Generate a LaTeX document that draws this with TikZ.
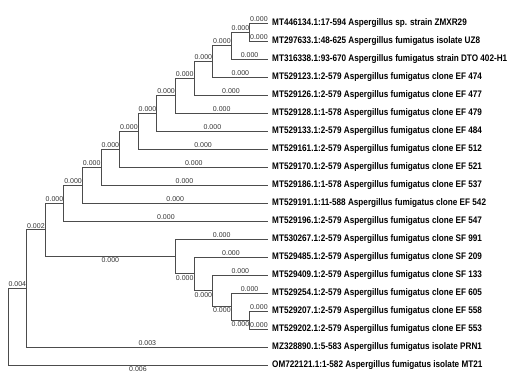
\documentclass[tikz,border=0pt]{standalone}
\usepackage{fontspec}
\usepackage{tikz}
\newfontfamily\leaffont[FakeStretch=0.86,BoldFont={Liberation Sans Bold}]{Liberation Sans}
\newfontfamily\lenfont{Liberation Sans}
\tikzset{branch/.style={draw=black!70,line width=0.8pt},
         leaf/.style={anchor=west,inner sep=0pt,font=\leaffont\bfseries\fontsize{9.5}{10}\selectfont},
         blen/.style={inner sep=1.2pt,text=black!80,font=\lenfont\fontsize{7}{8}\selectfont}}

\begin{document}
\begin{tikzpicture}[x=1pt,y=-1pt]
\useasboundingbox (0,0) rectangle (521,381);

%%inner nodes of the tree
\coordinate (u1) at (249.8,32);
\coordinate (u2) at (231.2,45.5);
\coordinate (u3) at (212.6,61.25);
\coordinate (u4) at (194,78.13);
\coordinate (u5) at (175.4,95.56);
\coordinate (u6) at (156.8,113.28);
\coordinate (u7) at (138.2,131.14);
\coordinate (u8) at (119.6,149.07);
\coordinate (u9) at (101,167.04);
\coordinate (u10) at (82.4,185.02);
\coordinate (u11) at (63.8,203.01);
\coordinate (s1) at (175.4,256.44);
\coordinate (s2) at (194,273.88);
\coordinate (s3) at (212.6,290.75);
\coordinate (s4) at (231.2,306.5);
\coordinate (s5) at (249.8,320);
\coordinate (b) at (45.2,229.72);
\coordinate (c) at (26.6,288.36);
\coordinate (r) at (8,326.68);

%%leaves: tip, name, parent, length, side of the length
\foreach \i/\p/\l/\s/\t in {
 0/u1/0.000/above/{MT446134.1:17-594 Aspergillus sp. strain ZMXR29},
 1/u1/0.000/above/{MT297633.1:48-625 Aspergillus fumigatus isolate UZ8},
 2/u2/0.000/above/{MT316338.1:93-670 Aspergillus fumigatus strain DTO 402-H1},
 3/u3/0.000/above/{MT529123.1:2-579 Aspergillus fumigatus clone EF 474},
 4/u4/0.000/above/{MT529126.1:2-579 Aspergillus fumigatus clone EF 477},
 5/u5/0.000/above/{MT529128.1:1-578 Aspergillus fumigatus clone EF 479},
 6/u6/0.000/above/{MT529133.1:2-579 Aspergillus fumigatus clone EF 484},
 7/u7/0.000/above/{MT529161.1:2-579 Aspergillus fumigatus clone EF 512},
 8/u8/0.000/above/{MT529170.1:2-579 Aspergillus fumigatus clone EF 521},
 9/u9/0.000/above/{MT529186.1:1-578 Aspergillus fumigatus clone EF 537},
 10/u10/0.000/above/{MT529191.1:11-588 Aspergillus fumigatus clone EF 542},
 11/u11/0.000/above/{MT529196.1:2-579 Aspergillus fumigatus clone EF 547},
 12/s1/0.000/above/{MT530267.1:2-579 Aspergillus fumigatus clone SF 991},
 13/s2/0.000/above/{MT529485.1:2-579 Aspergillus fumigatus clone SF 209},
 14/s3/0.000/above/{MT529409.1:2-579 Aspergillus fumigatus clone SF 133},
 15/s4/0.000/above/{MT529254.1:2-579 Aspergillus fumigatus clone EF 605},
 16/s5/0.000/above/{MT529207.1:2-579 Aspergillus fumigatus clone EF 558},
 17/s5/0.000/above/{MT529202.1:2-579 Aspergillus fumigatus clone EF 553},
 18/c/0.003/above/{MZ328890.1:5-583 Aspergillus fumigatus isolate PRN1},
 19/r/0.006/below/{OM722121.1:1-582 Aspergillus fumigatus isolate MT21}}
{\coordinate (t\i) at (268,{23+18*\i});
 \node[leaf] (lab\i) at (272,{23+18*\i}) {\t};
 \draw[branch] (\p) |- node[blen,pos=.75,\s] {\l} (t\i);}

%%inner branches
\foreach \a/\c/\l/\s in {u2/u1/0.000/above,u3/u2/0.000/above,u4/u3/0.000/above,
 u5/u4/0.000/above,u6/u5/0.000/above,u7/u6/0.000/above,u8/u7/0.000/above,
 u9/u8/0.000/above,u10/u9/0.000/above,u11/u10/0.000/above,b/u11/0.000/above,
 b/s1/0.000/below,s1/s2/0.000/below,s2/s3/0.000/below,s3/s4/0.000/below,
 s4/s5/0.000/below,c/b/0.002/above,r/c/0.004/above}
 {\draw[branch] (\a) |- node[blen,pos=.75,\s] {\l} (\c);}
\end{tikzpicture}
\end{document}
